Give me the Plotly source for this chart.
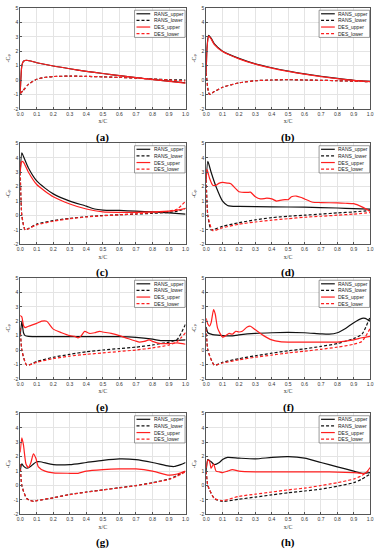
import plotly.graph_objects as go

W, H = 381, 550

# ---------------- DATA ----------------
x_ticks = [0.0, 0.1, 0.2, 0.3, 0.4, 0.5, 0.6, 0.7, 0.8, 0.9, 1.0]
x_tick_labels = ["0.0", "0.1", "0.2", "0.3", "0.4", "0.5", "0.6", "0.7", "0.8", "0.9", "1.0"]
y_ticks = [-2, -1, 0, 1, 2, 3, 4, 5]
y_tick_labels = ["-2", "-1", "0", "1", "2", "3", "4", "5"]
series_names = ["RANS_upper", "RANS_lower", "DES_upper", "DES_lower"]
panel_labels = ["(a)", "(b)", "(c)", "(d)", "(e)", "(f)", "(g)", "(h)"]
x_title = "x/C"
y_title = "-C\u209a"

# (a)
a_ru_x = [0, 0.005, 0.01, 0.02, 0.04, 0.1, 0.2, 0.3, 0.4, 0.5, 0.6, 0.7, 0.8, 0.9, 1.0]
a_ru_y = [-0.9, 0.3, 1.0, 1.3, 1.37, 1.2, 0.97, 0.78, 0.6, 0.45, 0.3, 0.17, 0.04, -0.08, -0.2]
a_rl_x = [0, 0.02, 0.05, 0.1, 0.15, 0.2, 0.3, 0.4, 0.5, 0.6, 0.7, 0.8, 0.9, 1.0]
a_rl_y = [-0.95, -0.7, -0.3, 0.05, 0.18, 0.24, 0.27, 0.25, 0.22, 0.18, 0.13, 0.07, 0.02, 0.0]
a_du_x = a_ru_x
a_du_y = [-0.9, 0.3, 1.0, 1.3, 1.37, 1.2, 0.97, 0.78, 0.6, 0.45, 0.3, 0.17, 0.03, -0.1, -0.22]
a_dl_x = a_rl_x
a_dl_y = [-0.95, -0.7, -0.3, 0.05, 0.18, 0.24, 0.27, 0.25, 0.22, 0.18, 0.13, 0.07, 0.0, -0.07]

# (b)
b_ru_x = [0, 0.005, 0.015, 0.03, 0.05, 0.1, 0.2, 0.3, 0.4, 0.5, 0.6, 0.7, 0.8, 0.9, 1.0]
b_ru_y = [0.5, 2.3, 3.1, 2.9, 2.5, 2.0, 1.5, 1.12, 0.85, 0.62, 0.43, 0.26, 0.11, -0.02, -0.1]
b_rl_x = [0, 0.01, 0.02, 0.05, 0.1, 0.2, 0.3, 0.4, 0.5, 0.6, 0.7, 0.8, 0.9, 1.0]
b_rl_y = [0.5, -0.6, -1.0, -0.8, -0.5, -0.2, -0.05, 0.0, 0.02, 0.0, -0.02, -0.05, -0.08, -0.12]
b_du_x = b_ru_x
b_du_y = [0.5, 2.2, 3.05, 2.85, 2.45, 1.97, 1.47, 1.1, 0.83, 0.6, 0.41, 0.24, 0.09, -0.03, -0.11]
b_dl_x = b_rl_x
b_dl_y = [0.5, -0.6, -1.0, -0.8, -0.5, -0.2, -0.05, 0.0, 0.02, 0.0, -0.02, -0.05, -0.08, -0.12]

# (c)
c_ru_x = [0, 0.01, 0.02, 0.05, 0.1, 0.15, 0.2, 0.3, 0.4, 0.45, 0.5, 0.6, 0.7, 0.8, 0.9, 1.0]
c_ru_y = [3.0, 4.35, 4.1, 3.3, 2.4, 1.9, 1.5, 1.0, 0.65, 0.45, 0.38, 0.35, 0.3, 0.25, 0.18, 0.1]
c_rl_x = [0, 0.01, 0.03, 0.05, 0.1, 0.2, 0.3, 0.4, 0.5, 0.6, 0.7, 0.8, 0.9, 0.95, 1.0]
c_rl_y = [3.0, 0.0, -1.0, -0.9, -0.6, -0.35, -0.2, -0.08, 0.0, 0.05, 0.1, 0.15, 0.22, 0.3, 0.5]
c_du_x = [0, 0.01, 0.02, 0.05, 0.1, 0.2, 0.3, 0.4, 0.5, 0.6, 0.7, 0.8, 0.9, 0.95, 1.0]
c_du_y = [3.0, 3.75, 3.7, 3.0, 2.15, 1.3, 0.8, 0.45, 0.25, 0.22, 0.22, 0.25, 0.3, 0.38, 0.5]
c_dl_x = [0, 0.01, 0.03, 0.05, 0.1, 0.2, 0.3, 0.4, 0.5, 0.6, 0.7, 0.8, 0.9, 0.95, 1.0]
c_dl_y = [3.7, 0.0, -1.0, -0.92, -0.65, -0.4, -0.22, -0.1, -0.02, 0.05, 0.12, 0.2, 0.3, 0.45, 1.0]

# (d)
d_ru_x = [0, 0.01, 0.03, 0.06, 0.1, 0.13, 0.15, 0.2, 0.4, 0.6, 0.8, 0.9, 1.0]
d_ru_y = [2.5, 3.75, 3.0, 2.0, 1.0, 0.7, 0.65, 0.63, 0.6, 0.58, 0.52, 0.48, 0.45]
d_rl_x = [0, 0.01, 0.03, 0.05, 0.1, 0.2, 0.3, 0.4, 0.5, 0.6, 0.7, 0.8, 0.9, 1.0]
d_rl_y = [2.5, 0.0, -1.0, -0.95, -0.75, -0.5, -0.3, -0.15, -0.05, 0.02, 0.1, 0.18, 0.25, 0.35]
d_du_x = [0, 0.005, 0.02, 0.04, 0.06, 0.08, 0.1, 0.13, 0.15, 0.2, 0.25, 0.27, 0.3, 0.33, 0.37,
          0.4, 0.43, 0.45, 0.48, 0.5, 0.52, 0.55, 0.58, 0.6, 0.65, 0.7, 0.8, 0.85, 0.9, 0.95, 1.0]
d_du_y = [2.5, 3.2, 2.6, 2.1, 2.1, 2.25, 2.3, 2.25, 2.2, 1.65, 1.6, 1.62, 1.3, 1.15, 1.2,
          1.15, 1.0, 1.05, 1.1, 1.1, 1.3, 1.35, 1.25, 1.15, 0.92, 0.9, 0.87, 0.85, 0.82, 0.6, 0.3]
d_dl_x = [0, 0.01, 0.04, 0.1, 0.2, 0.3, 0.4, 0.5, 0.6, 0.7, 0.8, 0.9, 1.0]
d_dl_y = [2.5, 0.0, -1.05, -0.85, -0.6, -0.45, -0.32, -0.22, -0.12, -0.05, 0.02, 0.1, 0.2]

# (e)
e_ru_x = [0, 0.01, 0.02, 0.03, 0.05, 0.2, 0.4, 0.6, 0.7, 0.8, 0.85, 0.9, 0.95, 1.0]
e_ru_y = [1.0, 2.0, 1.2, 1.0, 0.95, 0.93, 0.93, 0.93, 0.88, 0.75, 0.65, 0.65, 0.67, 0.7]
e_rl_x = [0, 0.01, 0.04, 0.1, 0.2, 0.3, 0.4, 0.5, 0.6, 0.7, 0.8, 0.85, 0.9, 0.95, 1.0]
e_rl_y = [1.5, 0.0, -1.05, -0.8, -0.5, -0.3, -0.12, 0.0, 0.1, 0.2, 0.35, 0.45, 0.55, 0.75, 1.8]
e_du_x = [0, 0.01, 0.02, 0.03, 0.05, 0.1, 0.13, 0.16, 0.2, 0.25, 0.3, 0.33, 0.35, 0.37, 0.39,
          0.42, 0.45, 0.48, 0.5, 0.55, 0.6, 0.65, 0.7, 0.72, 0.75, 0.78, 0.8, 0.85, 0.9, 0.95, 1.0]
e_du_y = [2.4, 2.3, 1.7, 1.55, 1.65, 1.85, 2.0, 2.0, 1.45, 1.2, 1.0, 0.95, 0.85, 1.0, 1.3,
          1.15, 1.2, 1.3, 1.25, 1.15, 1.0, 0.8, 0.62, 0.55, 0.6, 0.7, 0.6, 0.45, 0.45, 0.5, 0.4]
e_dl_x = [0, 0.01, 0.04, 0.1, 0.2, 0.3, 0.4, 0.5, 0.6, 0.7, 0.8, 0.9, 0.95, 1.0]
e_dl_y = [1.5, 0.0, -1.05, -0.85, -0.6, -0.42, -0.3, -0.2, -0.1, 0.0, 0.15, 0.35, 0.6, 1.2]

# (f)
f_ru_x = [0, 0.01, 0.03, 0.05, 0.1, 0.15, 0.2, 0.3, 0.4, 0.5, 0.6, 0.7, 0.75, 0.8, 0.85, 0.9, 0.95, 0.97, 1.0]
f_ru_y = [1.6, 1.2, 1.1, 1.05, 1.0, 0.98, 1.05, 1.15, 1.2, 1.22, 1.2, 1.12, 1.1, 1.2, 1.5, 1.9, 2.2, 2.2, 2.0]
f_rl_x = [0, 0.01, 0.05, 0.1, 0.2, 0.3, 0.4, 0.5, 0.6, 0.7, 0.8, 0.9, 0.95, 1.0]
f_rl_y = [1.5, 0.0, -1.05, -0.85, -0.6, -0.4, -0.22, -0.05, 0.08, 0.25, 0.45, 0.8, 1.1, 2.3]
f_du_x = [0, 0.01, 0.02, 0.03, 0.045, 0.055, 0.07, 0.1, 0.12, 0.14, 0.16, 0.18, 0.2, 0.22, 0.25,
          0.27, 0.3, 0.35, 0.4, 0.45, 0.5, 0.6, 0.7, 0.8, 0.9, 0.95, 1.0]
f_du_y = [2.2, 1.8, 1.65, 1.9, 2.8, 2.5, 1.5, 0.9, 1.0, 1.15, 1.1, 1.3, 1.25, 1.3, 1.6,
          1.65, 1.4, 1.0, 0.7, 0.58, 0.55, 0.55, 0.55, 0.55, 0.7, 0.85, 0.95]
f_dl_x = [0, 0.01, 0.05, 0.1, 0.2, 0.3, 0.4, 0.5, 0.6, 0.7, 0.8, 0.9, 0.95, 1.0]
f_dl_y = [1.5, 0.0, -1.05, -0.9, -0.68, -0.5, -0.35, -0.2, -0.08, 0.05, 0.2, 0.4, 0.6, 1.5]

# (g)
g_ru_x = [0, 0.01, 0.02, 0.04, 0.06, 0.08, 0.1, 0.12, 0.2, 0.3, 0.4, 0.5, 0.6, 0.7, 0.8, 0.9, 0.93, 0.97, 1.0]
g_ru_y = [1.0, 1.5, 1.35, 1.2, 1.3, 1.5, 1.65, 1.65, 1.45, 1.45, 1.6, 1.75, 1.85, 1.8, 1.6, 1.35, 1.32, 1.45, 1.6]
g_rl_x = [0, 0.01, 0.04, 0.08, 0.1, 0.2, 0.3, 0.4, 0.5, 0.6, 0.7, 0.8, 0.9, 0.95, 1.0]
g_rl_y = [1.5, 0.0, -0.9, -1.1, -1.05, -0.85, -0.62, -0.45, -0.3, -0.15, 0.0, 0.2, 0.45, 0.7, 1.0]
g_du_x = [0, 0.01, 0.02, 0.035, 0.05, 0.065, 0.08, 0.095, 0.11, 0.15, 0.2, 0.3, 0.35, 0.4, 0.5,
          0.6, 0.7, 0.8, 0.9, 0.95, 1.0]
g_du_y = [2.3, 3.3, 2.8, 1.5, 1.25, 1.6, 2.2, 1.9, 1.3, 1.0, 0.88, 0.85, 0.85, 1.0, 1.1,
          1.15, 1.15, 1.0, 0.72, 0.8, 1.0]
g_dl_x = g_rl_x
g_dl_y = [1.5, 0.0, -0.92, -1.1, -1.05, -0.85, -0.63, -0.46, -0.31, -0.16, -0.01, 0.18, 0.43, 0.65, 0.95]

# (h)
h_ru_x = [0, 0.01, 0.03, 0.05, 0.08, 0.1, 0.13, 0.2, 0.3, 0.4, 0.5, 0.6, 0.7, 0.8, 0.9, 0.95, 1.0]
h_ru_y = [1.0, 1.8, 1.65, 1.45, 1.6, 1.8, 1.95, 1.9, 1.85, 1.95, 2.0, 1.9, 1.6, 1.3, 1.0, 0.85, 0.9]
h_rl_x = [0, 0.01, 0.05, 0.1, 0.2, 0.3, 0.4, 0.5, 0.6, 0.7, 0.8, 0.9, 0.95, 1.0]
h_rl_y = [1.0, 0.0, -0.9, -1.1, -0.95, -0.8, -0.65, -0.5, -0.38, -0.25, -0.05, 0.2, 0.45, 0.8]
h_du_x = [0, 0.01, 0.02, 0.03, 0.045, 0.06, 0.08, 0.1, 0.13, 0.16, 0.2, 0.3, 0.4, 0.5, 0.6,
          0.7, 0.8, 0.9, 0.97, 1.0]
h_du_y = [1.2, 1.75, 1.7, 1.2, 1.5, 1.0, 0.95, 0.9, 1.0, 1.1, 1.0, 0.95, 0.95, 0.95, 0.95,
          0.95, 0.93, 0.9, 0.85, 1.25]
h_dl_x = [0, 0.01, 0.05, 0.1, 0.2, 0.3, 0.4, 0.5, 0.6, 0.7, 0.8, 0.9, 0.95, 1.0]
h_dl_y = [1.0, 0.0, -0.9, -1.05, -0.75, -0.6, -0.45, -0.3, -0.18, 0.0, 0.2, 0.45, 0.7, 1.1]

panels = [
    (a_ru_x, a_ru_y, a_rl_x, a_rl_y, a_du_x, a_du_y, a_dl_x, a_dl_y),
    (b_ru_x, b_ru_y, b_rl_x, b_rl_y, b_du_x, b_du_y, b_dl_x, b_dl_y),
    (c_ru_x, c_ru_y, c_rl_x, c_rl_y, c_du_x, c_du_y, c_dl_x, c_dl_y),
    (d_ru_x, d_ru_y, d_rl_x, d_rl_y, d_du_x, d_du_y, d_dl_x, d_dl_y),
    (e_ru_x, e_ru_y, e_rl_x, e_rl_y, e_du_x, e_du_y, e_dl_x, e_dl_y),
    (f_ru_x, f_ru_y, f_rl_x, f_rl_y, f_du_x, f_du_y, f_dl_x, f_dl_y),
    (g_ru_x, g_ru_y, g_rl_x, g_rl_y, g_du_x, g_du_y, g_dl_x, g_dl_y),
    (h_ru_x, h_ru_y, h_rl_x, h_rl_y, h_du_x, h_du_y, h_dl_x, h_dl_y),
]

# ---------------- STYLE / LAYOUT ----------------
BLACK = "#111111"
RED = "#ff1f1f"
DASH = "3px,2px"
styles = [(BLACK, "solid"), (BLACK, DASH), (RED, "solid"), (RED, DASH)]

col_px = [(17.5, 186.0), (207.0, 374.0)]
row_px = [(5, 107), (142, 244), (278, 380), (415, 517)]

def px2x(p):
    return p / W

def px2y(p):
    return 1 - p / H

fig = go.Figure()
shapes = []
annotations = []
tickfont = dict(family="Liberation Sans", size=5, color="#333333")
titlefont = dict(family="Liberation Serif, DejaVu Serif", size=6, color="#333333")

for i, pdata in enumerate(panels):
    r, c = divmod(i, 2)
    xa = "x" if i == 0 else f"x{i+1}"
    ya = "y" if i == 0 else f"y{i+1}"
    for k in range(4):
        xs, ys = pdata[2 * k], pdata[2 * k + 1]
        col, dash = styles[k]
        fig.add_trace(go.Scatter(
            x=xs, y=ys, mode="lines", name=series_names[k],
            line=dict(color=col, width=1.2, dash=dash, shape="spline", smoothing=0.6),
            xaxis=xa, yaxis=ya, showlegend=False, hoverinfo="skip"))

    x0, x1 = col_px[c]
    y0, y1 = row_px[r]
    axkey = "xaxis" if i == 0 else f"xaxis{i+1}"
    aykey = "yaxis" if i == 0 else f"yaxis{i+1}"
    fig.layout[axkey] = dict(
        domain=[px2x(x0), px2x(x1)], anchor=ya, range=[0, 1],
        tickvals=x_ticks, ticktext=x_tick_labels, tickfont=tickfont,
        showgrid=True, gridcolor="#e4e4e4", gridwidth=0.6,
        showline=True, linecolor="#555555", linewidth=0.8, mirror=True,
        ticks="inside", ticklen=2, tickcolor="#555555", zeroline=False,
        title=dict(text=x_title, font=titlefont, standoff=3),
    )
    fig.layout[aykey] = dict(
        domain=[px2y(y1), px2y(y0)], anchor=xa, range=[-2, 5],
        tickvals=y_ticks, ticktext=y_tick_labels, tickfont=tickfont,
        showgrid=True, gridcolor="#e4e4e4", gridwidth=0.6,
        showline=True, linecolor="#555555", linewidth=0.8, mirror=True,
        ticks="inside", ticklen=2, tickcolor="#555555", zeroline=False,
        title=dict(text=y_title, font=titlefont, standoff=2),
    )

    # panel caption
    annotations.append(dict(
        x=px2x((x0 + x1) / 2), y=px2y(y1 + 28.5), xref="paper", yref="paper",
        text=f"<b>{panel_labels[i]}</b>", showarrow=False,
        font=dict(family="Liberation Serif", size=11, color="#000000"),
        xanchor="center", yanchor="middle"))

    # legend box (inside, top-right)
    lx1 = x1 - 0.5
    lx0 = lx1 - 51.5
    ly0 = y0 + 2.3
    ly1 = ly0 + 27.5
    shapes.append(dict(type="rect", xref="paper", yref="paper",
                       x0=px2x(lx0), x1=px2x(lx1), y0=px2y(ly1), y1=px2y(ly0),
                       line=dict(color="#555555", width=0.6), fillcolor="white", layer="above"))
    for k in range(4):
        yy = ly0 + 3.6 + 6.7 * k
        col, dash = styles[k]
        shapes.append(dict(type="line", xref="paper", yref="paper",
                           x0=px2x(lx0 + 2), x1=px2x(lx0 + 16), y0=px2y(yy), y1=px2y(yy),
                           line=dict(color=col, width=1.2, dash=dash), layer="above"))
        annotations.append(dict(
            x=px2x(lx0 + 17.5), y=px2y(yy), xref="paper", yref="paper",
            text=series_names[k], showarrow=False, xanchor="left", yanchor="middle",
            font=dict(family="Liberation Sans", size=5, color="#222222")))

fig.update_layout(
    width=W, height=H, margin=dict(l=0, r=0, t=0, b=0),
    paper_bgcolor="white", plot_bgcolor="white",
    shapes=shapes, annotations=annotations, showlegend=False,
)

fig.write_html("out.html", config={"displayModeBar": False},
               post_script="document.body.style.margin='0px';document.body.style.padding='0px';")
